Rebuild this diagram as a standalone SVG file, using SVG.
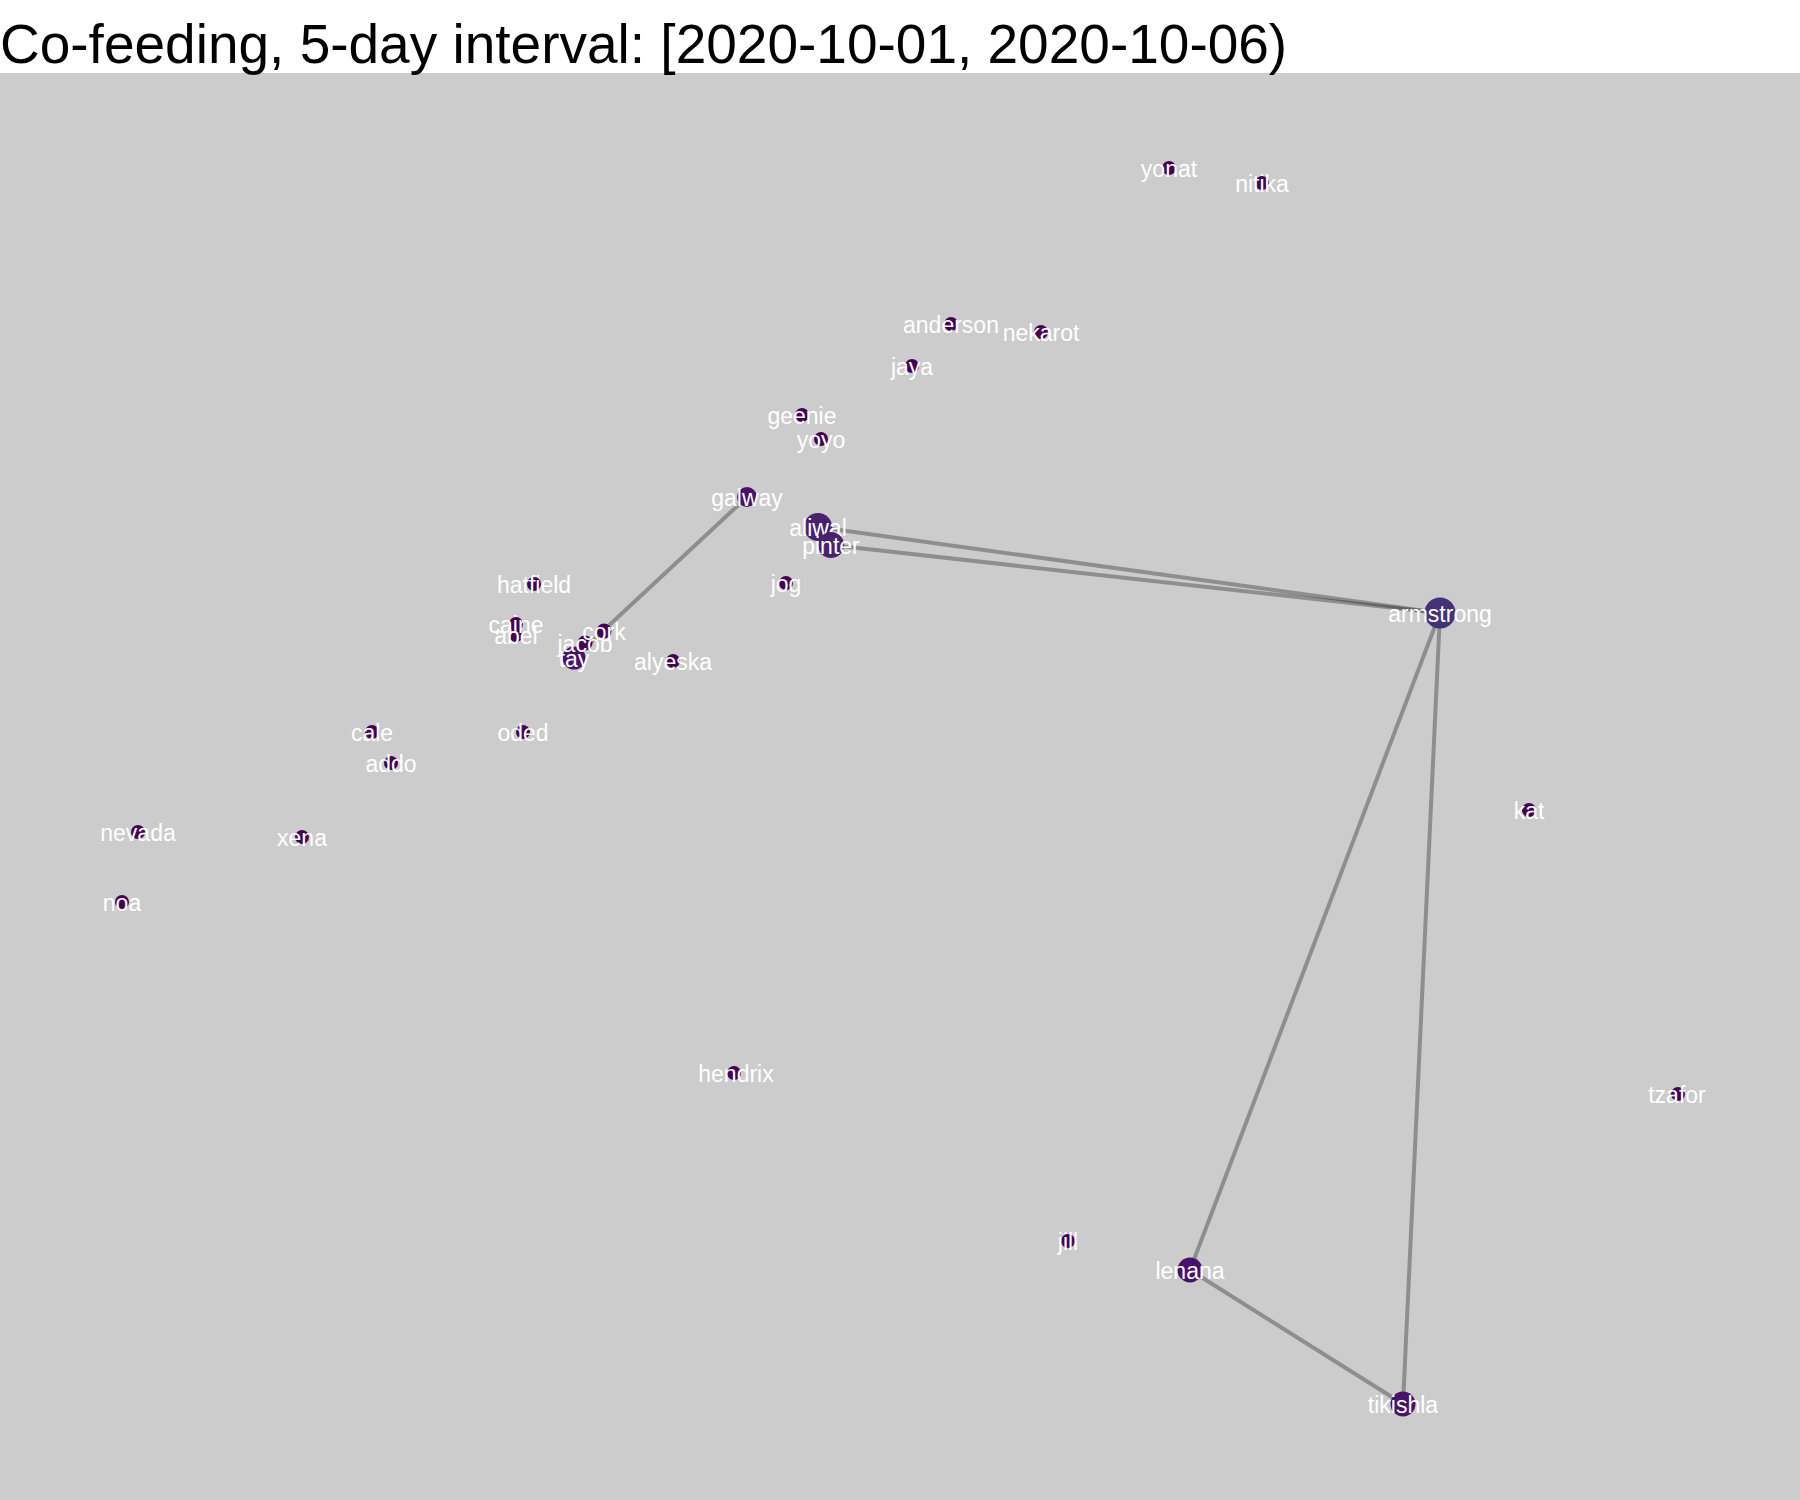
<svg xmlns="http://www.w3.org/2000/svg" width="1800" height="1500" viewBox="0 0 1800 1500">
<style>
.bg{fill:#cccccc}
.title{font-family:"Liberation Sans",Arial,sans-serif;font-size:55px;fill:#000}
.edge{stroke:#000;stroke-opacity:0.3;stroke-width:4;fill:none}
.n0{fill:#440154}
.n1{fill:#47126a}
.n2{fill:#48216f}
.n3{fill:#433278}
text.lbl{font-family:"Liberation Sans",Arial,sans-serif;font-size:23px;fill:#fff;text-anchor:middle}
</style>
<rect x="0" y="0" width="1800" height="1500" fill="#fff"/>
<rect class="bg" x="0" y="73" width="1800" height="1427"/>
<text class="title" x="0" y="63">Co-feeding, 5-day interval: [2020-10-01, 2020-10-06)</text>
<g id="edges">
<line class="edge" x1="747" y1="497" x2="574" y2="658"/>
<line class="edge" x1="818" y1="527" x2="1440" y2="613"/>
<line class="edge" x1="831" y1="545" x2="1440" y2="613"/>
<line class="edge" x1="1440" y1="613" x2="1190" y2="1270"/>
<line class="edge" x1="1440" y1="613" x2="1403" y2="1404"/>
<line class="edge" x1="1190" y1="1270" x2="1403" y2="1404"/>
</g>
<g id="node-yonat"><circle class="n0" cx="1169" cy="168" r="7"/><text class="lbl" x="1169" y="177">yonat</text></g>
<g id="node-nitika"><circle class="n0" cx="1262" cy="183" r="7"/><text class="lbl" x="1262" y="192">nitika</text></g>
<g id="node-anderson"><circle class="n0" cx="951" cy="324" r="7"/><text class="lbl" x="951" y="333">anderson</text></g>
<g id="node-nekarot"><circle class="n0" cx="1041" cy="332" r="7"/><text class="lbl" x="1041" y="341">nekarot</text></g>
<g id="node-jaya"><circle class="n0" cx="912" cy="366" r="7"/><text class="lbl" x="912" y="375">jaya</text></g>
<g id="node-geenie"><circle class="n0" cx="802" cy="415" r="7"/><text class="lbl" x="802" y="424">geenie</text></g>
<g id="node-yoyo"><circle class="n0" cx="821" cy="439" r="7"/><text class="lbl" x="821" y="448">yoyo</text></g>
<g id="node-galway"><circle class="n1" cx="747" cy="497" r="10"/><text class="lbl" x="747" y="506">galway</text></g>
<g id="node-aliwal"><circle class="n2" cx="818" cy="527" r="14"/><text class="lbl" x="818" y="536">aliwal</text></g>
<g id="node-pinter"><circle class="n2" cx="831" cy="545" r="13"/><text class="lbl" x="831" y="554">pinter</text></g>
<g id="node-jog"><circle class="n0" cx="786" cy="583" r="7"/><text class="lbl" x="786" y="592">jog</text></g>
<g id="node-hatfield"><circle class="n0" cx="534" cy="584" r="7"/><text class="lbl" x="534" y="593">hatfield</text></g>
<g id="node-abel"><circle class="n0" cx="516" cy="635" r="7"/><text class="lbl" x="516" y="644">abel</text></g>
<g id="node-caine"><circle class="n0" cx="516" cy="624" r="7"/><text class="lbl" x="516" y="633">caine</text></g>
<g id="node-tay"><circle class="n1" cx="574" cy="658" r="11.5"/><text class="lbl" x="574" y="667">tay</text></g>
<g id="node-jacob"><circle class="n0" cx="585" cy="643" r="7.5"/><text class="lbl" x="585" y="652">jacob</text></g>
<g id="node-cork"><circle class="n0" cx="604" cy="631" r="7.5"/><text class="lbl" x="604" y="640">cork</text></g>
<g id="node-alyeska"><circle class="n0" cx="673" cy="661" r="7"/><text class="lbl" x="673" y="670">alyeska</text></g>
<g id="node-armstrong"><circle class="n3" cx="1440" cy="613" r="15.5"/><text class="lbl" x="1440" y="622">armstrong</text></g>
<g id="node-cale"><circle class="n0" cx="372" cy="732" r="7"/><text class="lbl" x="372" y="741">cale</text></g>
<g id="node-oded"><circle class="n0" cx="523" cy="732" r="7"/><text class="lbl" x="523" y="741">oded</text></g>
<g id="node-addo"><circle class="n0" cx="391" cy="763" r="7"/><text class="lbl" x="391" y="772">addo</text></g>
<g id="node-nevada"><circle class="n0" cx="138" cy="832" r="7"/><text class="lbl" x="138" y="841">nevada</text></g>
<g id="node-xena"><circle class="n0" cx="302" cy="837" r="7"/><text class="lbl" x="302" y="846">xena</text></g>
<g id="node-noa"><circle class="n0" cx="122" cy="902" r="7"/><text class="lbl" x="122" y="911">noa</text></g>
<g id="node-kat"><circle class="n0" cx="1529" cy="810" r="7"/><text class="lbl" x="1529" y="819">kat</text></g>
<g id="node-hendrix"><circle class="n0" cx="734" cy="1073" r="7"/><text class="lbl" x="736" y="1082">hendrix</text></g>
<g id="node-tzafor"><circle class="n0" cx="1678" cy="1094" r="7"/><text class="lbl" x="1677" y="1103">tzafor</text></g>
<g id="node-jill"><circle class="n0" cx="1068" cy="1241" r="7"/><text class="lbl" x="1068" y="1250">jill</text></g>
<g id="node-lenana"><circle class="n1" cx="1190" cy="1270" r="12.5"/><text class="lbl" x="1190" y="1279">lenana</text></g>
<g id="node-tikishla"><circle class="n1" cx="1403" cy="1404" r="12.5"/><text class="lbl" x="1403" y="1413">tikishla</text></g>
</svg>
